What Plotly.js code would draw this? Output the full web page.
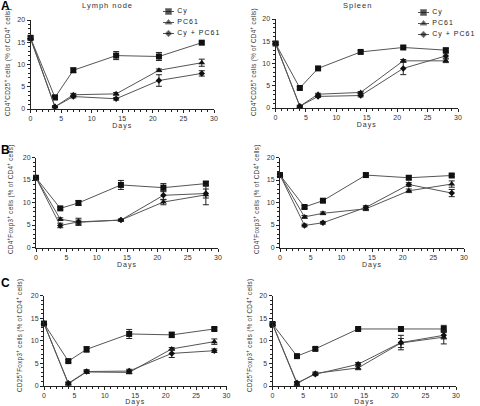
<!DOCTYPE html>
<html>
<head>
<meta charset="utf-8">
<script src="https://cdn.plot.ly/plotly-3.0.1.min.js"></script>
<style>
  html, body { margin: 0; padding: 0; background: #fff; }
  #chart { width: 480px; height: 406px; }
  .textpoint text, .xtitle, .x2title, .x3title, .x4title, .x5title, .x6title { letter-spacing: 1px; }
  .annotation-text { letter-spacing: 0.3px; }
</style>
</head>
<body>
<div id="chart"></div>
<script>
// ---------- DATA ----------
const days = [0, 4, 7, 14, 21, 28];
const seriesNames = ['Cy', 'PC61', 'Cy + PC61'];
const panelLetters = ['A', 'B', 'C'];
const tissueTitles = ['Lymph node', 'Spleen'];
const yTitles = [
  'CD4<sup>+</sup>CD25<sup>+</sup> cells (% of CD4<sup>+</sup> cells)',
  'CD4<sup>+</sup>Foxp3<sup>+</sup> cells (% of CD4<sup>+</sup> cells)',
  'CD25<sup>+</sup>Foxp3<sup>+</sup> cells (% of CD4<sup>+</sup> cells)'
];
const xTitle = 'Days';

// A – lymph node
const aLnCy    = [16.0, 2.6, 8.7, 12.0, 11.8, 14.9];
const aLnCyErr = [0.4, 0.5, 0.5, 0.9, 0.9, 0.3];
const aLnPc    = [16.0, 0.5, 3.2, 3.4, 8.7, 10.4];
const aLnPcErr = [0.3, 0.2, 0.3, 0.3, 0.3, 0.8];
const aLnCp    = [15.8, 0.5, 2.8, 2.3, 6.4, 8.0];
const aLnCpErr = [0.3, 0.2, 0.3, 0.3, 1.3, 0.6];
// A – spleen
const aSpCy    = [14.5, 4.5, 8.9, 12.6, 13.6, 13.0];
const aSpCyErr = [0.3, 0.3, 0.3, 0.3, 0.3, 0.4];
const aSpPc    = [14.5, 0.4, 3.1, 3.5, 10.6, 10.6];
const aSpPcErr = [0.3, 0.2, 0.2, 0.2, 0.3, 0.4];
const aSpCp    = [14.5, 0.4, 2.6, 2.8, 8.9, 11.7];
const aSpCpErr = [0.3, 0.2, 0.2, 0.3, 1.4, 0.5];
// B – lymph node
const bLnCy    = [15.5, 8.7, 9.9, 13.9, 13.3, 14.2];
const bLnCyErr = [0.3, 0.3, 0.5, 1.0, 0.9, 0.5];
const bLnPc    = [15.5, 6.3, 5.6, 6.1, 10.1, 11.7];
const bLnPcErr = [0.3, 0.3, 0.5, 0.2, 0.6, 2.2];
const bLnCp    = [15.5, 4.9, 5.7, 6.1, 11.6, 12.0];
const bLnCpErr = [0.3, 0.5, 0.8, 0.2, 1.0, 1.0];
// B – spleen
const bSpCy    = [16.1, 9.0, 10.4, 16.1, 15.5, 16.0];
const bSpCyErr = [0.3, 0.3, 0.3, 0.4, 0.4, 0.3];
const bSpPc    = [16.1, 6.8, 7.6, 8.6, 12.6, 14.1];
const bSpPcErr = [0.3, 0.3, 0.3, 0.4, 0.4, 0.7];
const bSpCp    = [16.1, 4.9, 5.5, 8.9, 14.0, 12.1];
const bSpCpErr = [0.3, 0.3, 0.3, 0.4, 0.4, 0.8];
// C – lymph node
const cLnCy    = [13.8, 5.5, 8.1, 11.5, 11.3, 12.6];
const cLnCyErr = [0.4, 0.3, 0.6, 1.0, 0.6, 0.3];
const cLnPc    = [13.8, 0.5, 3.1, 3.0, 8.2, 9.8];
const cLnPcErr = [0.3, 0.3, 0.3, 0.3, 0.3, 0.6];
const cLnCp    = [13.8, 0.6, 3.2, 3.3, 7.2, 7.8];
const cLnCpErr = [0.3, 0.3, 0.4, 0.4, 0.9, 0.4];
// C – spleen
const cSpCy    = [13.7, 6.6, 8.2, 12.6, 12.6, 12.6];
const cSpCyErr = [0.3, 0.3, 0.3, 0.2, 0.3, 0.8];
const cSpPc    = [13.7, 0.5, 2.8, 4.0, 9.5, 10.8];
const cSpPcErr = [0.3, 0.4, 0.3, 0.4, 1.0, 1.5];
const cSpCp    = [13.7, 0.7, 2.6, 4.8, 9.6, 11.2];
const cSpCpErr = [0.3, 0.3, 0.3, 0.4, 1.6, 0.8];

// ---------- LAYOUT / STYLE ----------
const W = 480, H = 406;
const px = v => v / W;
const py = v => 1 - v / H;
const FONT = 'Arial, "Liberation Sans", "DejaVu Sans", sans-serif';
const symbols = ['square', 'triangle-up', 'diamond'];
const markerSizes = [6, 6, 5];
const lineColor = '#555';
const markColor = '#111';

// panel pixel boxes: [left, right, top(y=20), bottom(y=0)], y-title x / y centre, row
const panels = [
  {data: [[aLnCy, aLnCyErr], [aLnPc, aLnPcErr], [aLnCp, aLnCpErr]], box: [30.5, 214, 20, 109], yt: 7, yc: 62, row: 0},
  {data: [[aSpCy, aSpCyErr], [aSpPc, aSpPcErr], [aSpCp, aSpCpErr]], box: [275.5, 458, 19, 108], yt: 253, yc: 62, row: 0},
  {data: [[bLnCy, bLnCyErr], [bLnPc, bLnPcErr], [bLnCp, bLnCpErr]], box: [36, 218, 157.5, 247.5], yt: 10, yc: 199, row: 1},
  {data: [[bSpCy, bSpCyErr], [bSpPc, bSpPcErr], [bSpCp, bSpCpErr]], box: [280, 464, 157.5, 247.5], yt: 256, yc: 199, row: 1},
  {data: [[cLnCy, cLnCyErr], [cLnPc, cLnPcErr], [cLnCp, cLnCpErr]], box: [44, 226.5, 295.5, 386], yt: 19, yc: 336, row: 2},
  {data: [[cSpCy, cSpCyErr], [cSpPc, cSpPcErr], [cSpCp, cSpCpErr]], box: [272.5, 456, 295.5, 386], yt: 249, yc: 336, row: 2}
];

const traces = [];
const layout = {
  width: W, height: H,
  margin: {l: 0, r: 0, t: 0, b: 0},
  paper_bgcolor: '#fff', plot_bgcolor: 'rgba(0,0,0,0)',
  showlegend: false,
  font: {family: FONT, color: '#222', size: 7},
  annotations: []
};

panels.forEach((p, k) => {
  const n = k + 1;
  const xa = n === 1 ? 'x' : 'x' + n;
  const ya = n === 1 ? 'y' : 'y' + n;
  const [l, r, t, b] = p.box;
  layout[n === 1 ? 'xaxis' : 'xaxis' + n] = {
    domain: [px(l), px(r)], anchor: ya,
    range: [0, 30], tick0: 0, dtick: 5,
    showline: true, linecolor: '#222', linewidth: 1,
    showgrid: false, zeroline: false,
    ticks: 'outside', ticklen: 3, tickwidth: 1, tickcolor: '#222',
    minor: {dtick: 1, ticks: 'outside', ticklen: 2, tickwidth: 1, tickcolor: '#222', showgrid: false},
    tickfont: {size: 7, family: FONT, color: '#333'},
    title: {text: xTitle, font: {size: 7, family: FONT, color: '#333'}, standoff: 1},
    fixedrange: true
  };
  layout[n === 1 ? 'yaxis' : 'yaxis' + n] = {
    domain: [py(b), py(t)], anchor: xa,
    range: [0, 20], tick0: 0, dtick: 5,
    showline: true, linecolor: '#222', linewidth: 1,
    showgrid: false, zeroline: false,
    ticks: 'outside', ticklen: 3, tickwidth: 1, tickcolor: '#222',
    minor: {dtick: 1, ticks: 'outside', ticklen: 2, tickwidth: 1, tickcolor: '#222', showgrid: false},
    tickfont: {size: 7, family: FONT, color: '#333'},
    fixedrange: true
  };
  p.data.forEach(([vals, errs], i) => {
    traces.push({
      type: 'scatter', mode: 'lines+markers',
      x: days, y: vals, xaxis: xa, yaxis: ya,
      name: seriesNames[i], cliponaxis: false,
      line: {color: lineColor, width: 1},
      marker: {symbol: symbols[i], size: markerSizes[i], color: markColor},
      error_y: {type: 'data', array: errs, visible: true, color: '#222', thickness: 1, width: 3}
    });
  });
  // y-axis title
  layout.annotations.push({
    xref: 'paper', yref: 'paper', x: px(p.yt), y: py(p.yc),
    xanchor: 'center', yanchor: 'middle', textangle: -90, showarrow: false,
    text: yTitles[p.row], font: {size: 6.3, family: FONT, color: '#333'}
  });
});

// panel letters
const letterY = [6, 150, 283];
panelLetters.forEach((L, i) => {
  layout.annotations.push({
    xref: 'paper', yref: 'paper', x: px(-1), y: py(letterY[i]),
    xanchor: 'left', yanchor: 'middle', showarrow: false,
    text: '<b>' + L + '</b>', font: {size: 12, family: FONT, color: '#000'}
  });
});
// tissue titles
const titleX = [107, 357];
tissueTitles.forEach((T, i) => {
  layout.annotations.push({
    xref: 'paper', yref: 'paper', x: px(titleX[i]), y: py(5.5),
    xanchor: 'center', yanchor: 'middle', showarrow: false,
    text: '<span style="letter-spacing:1px">' + T + '</span>',
    font: {size: 7.5, family: FONT, color: '#333333'}
  });
});

// compact legends (one per column in row A), drawn on hidden axes
const legendBoxes = [[163, 218, 6, 39], [418, 473, 7, 40]];
legendBoxes.forEach((bx, j) => {
  const n = 7 + j;
  const xa = 'x' + n, ya = 'y' + n;
  layout['xaxis' + n] = {domain: [px(bx[0]), px(bx[1])], anchor: ya, range: [0, 10], visible: false, fixedrange: true};
  layout['yaxis' + n] = {domain: [py(bx[3]), py(bx[2])], anchor: xa, range: [seriesNames.length - 0.5, -0.5], visible: false, fixedrange: true};
  seriesNames.forEach((nm, i) => {
    traces.push({
      type: 'scatter', mode: 'lines+markers',
      x: [0, 1, 2], y: [i, i, i], xaxis: xa, yaxis: ya, cliponaxis: false,
      line: {color: lineColor, width: 1},
      marker: {symbol: symbols[i], size: [0, markerSizes[i], 0], color: markColor},
      hoverinfo: 'skip'
    });
    traces.push({
      type: 'scatter', mode: 'text',
      x: [2.6], y: [i], xaxis: xa, yaxis: ya, cliponaxis: false,
      text: [nm], textposition: 'middle right',
      textfont: {size: 7, family: FONT, color: '#222'},
      hoverinfo: 'skip'
    });
  });
});

Plotly.newPlot('chart', traces, layout, {staticPlot: true, displayModeBar: false});
</script>
</body>
</html>
